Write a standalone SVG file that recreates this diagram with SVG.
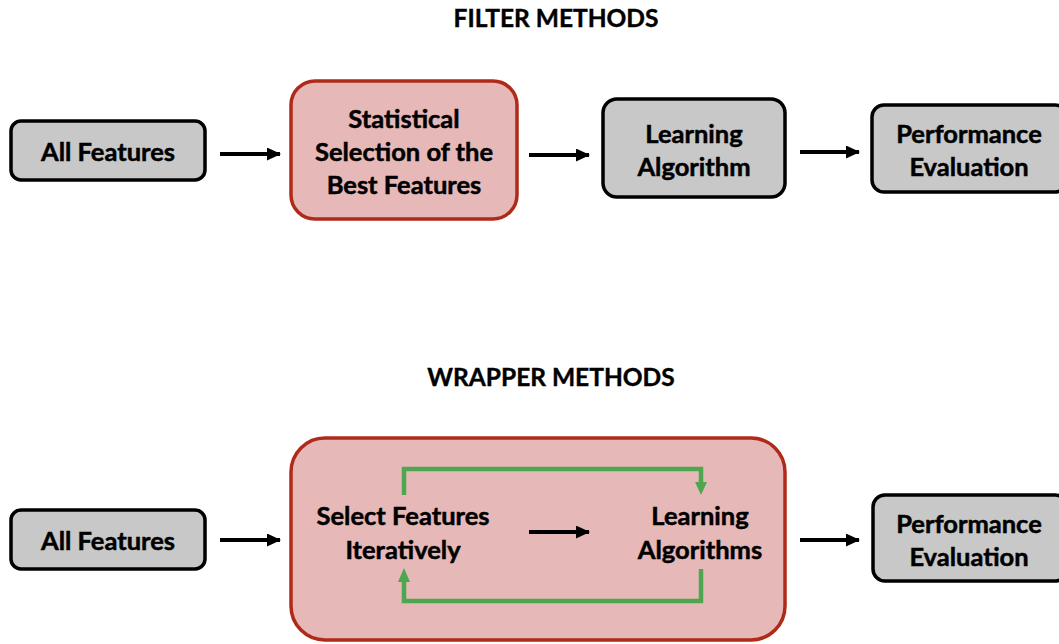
<svg xmlns="http://www.w3.org/2000/svg" width="1059" height="644" viewBox="0 0 1059 644">
  <style>
    .title { font-family: "Lato", "Liberation Sans", sans-serif; font-weight: 700; font-size: 24.5px; fill: #000; stroke: #000; stroke-width: 0.4; text-anchor: middle; }
    .label { font-family: "Lato", "Liberation Sans", sans-serif; font-weight: 700; font-size: 25.5px; fill: #000; stroke: #000; stroke-width: 0.5; text-anchor: middle; dominant-baseline: central; }
    .gray { fill: #c8c8c8; stroke: #000; stroke-width: 3.5; }
    .red { fill: #e6b8b7; stroke: #b02a1a; stroke-width: 3.5; }
    .flow { stroke: #000; stroke-width: 4; fill: none; marker-end: url(#head); }
    .loop { stroke: #4ea64f; stroke-width: 4.5; fill: none; }
    .loophead { fill: #4ea64f; }
  </style>
  <defs>
    <marker id="head" viewBox="0 0 14 13" refX="13" refY="6.5" markerWidth="14" markerHeight="13" orient="auto" markerUnits="userSpaceOnUse">
      <path d="M0,0 L14,6.5 L0,13 Z" fill="#000"/>
    </marker>
  </defs>

  <text class="title" x="556" y="27">FILTER METHODS</text>
  <text class="title" x="551" y="386">WRAPPER METHODS</text>

  <!-- filter pipeline -->
  <g id="filter-all-features">
    <rect class="gray" x="11" y="121" width="194" height="59" rx="10"/>
    <text class="label" x="108" y="151">All Features</text>
  </g>
  <g id="filter-statistical-selection">
    <rect class="red" x="291" y="81" width="226" height="138" rx="24"/>
    <text class="label" x="404" y="118">Statistical</text>
    <text class="label" x="404" y="151">Selection of the</text>
    <text class="label" x="404" y="184">Best Features</text>
  </g>
  <g id="filter-learning-algorithm">
    <rect class="gray" x="603" y="99" width="182" height="98" rx="14"/>
    <text class="label" x="694" y="133">Learning</text>
    <text class="label" x="694" y="166">Algorithm</text>
  </g>
  <g id="filter-performance-evaluation">
    <rect class="gray" x="872" y="105" width="195" height="87" rx="12"/>
    <text class="label" x="969" y="133">Performance</text>
    <text class="label" x="969" y="166">Evaluation</text>
  </g>

  <!-- wrapper pipeline -->
  <g id="wrapper-all-features">
    <rect class="gray" x="11" y="510" width="194" height="59" rx="10"/>
    <text class="label" x="108" y="540">All Features</text>
  </g>
  <g id="wrapper-loop-box">
    <rect class="red" x="291" y="438" width="494" height="202" rx="34"/>
  </g>
  <g id="wrapper-select-features">
    <text class="label" x="403" y="515">Select Features</text>
    <text class="label" x="403" y="549">Iteratively</text>
  </g>
  <g id="wrapper-learning-algorithms">
    <text class="label" x="700" y="515">Learning</text>
    <text class="label" x="700" y="549">Algorithms</text>
  </g>
  <g id="wrapper-performance-evaluation">
    <rect class="gray" x="873" y="495" width="194" height="86" rx="12"/>
    <text class="label" x="969" y="523">Performance</text>
    <text class="label" x="969" y="556">Evaluation</text>
  </g>

  <g id="connectors">
    <line class="flow" x1="220" y1="154" x2="280" y2="154"/>
    <line class="flow" x1="529" y1="155" x2="589" y2="155"/>
    <line class="flow" x1="800" y1="152" x2="859" y2="152"/>
    <line class="flow" x1="220" y1="540" x2="280" y2="540"/>
    <line class="flow" x1="529" y1="532" x2="589" y2="532"/>
    <line class="flow" x1="800" y1="540" x2="859" y2="540"/>
    <!-- feedback loop between selection and learning -->
    <polyline class="loop" points="404,495 404,469 701,469 701,484"/>
    <path class="loophead" d="M695,482 L707,482 L701,495 Z"/>
    <polyline class="loop" points="701,569 701,601 404,601 404,580"/>
    <path class="loophead" d="M398,582 L410,582 L404,568 Z"/>
  </g>
</svg>
